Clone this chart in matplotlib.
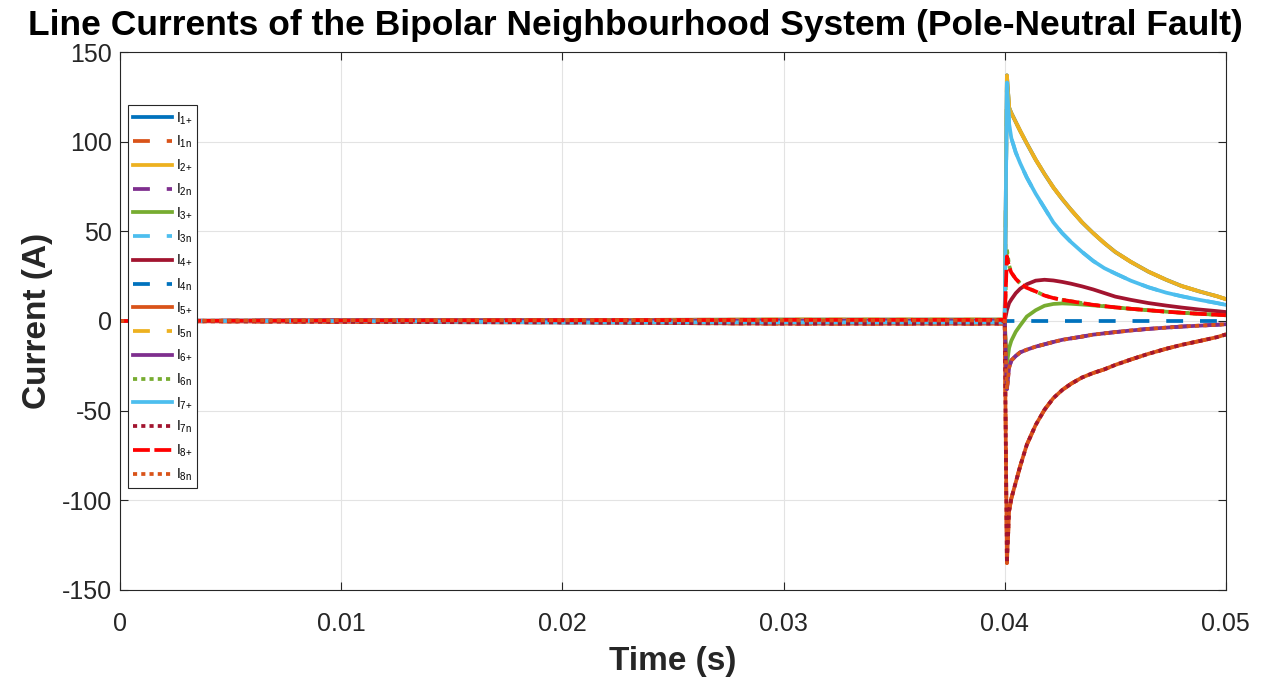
import matplotlib
matplotlib.use("Agg")
import matplotlib.pyplot as plt

plt.rcParams['font.family'] = ['Liberation Sans', 'DejaVu Sans']
plt.rcParams['mathtext.fontset'] = 'custom'
plt.rcParams['mathtext.rm'] = 'Liberation Sans'
plt.rcParams['mathtext.it'] = 'Liberation Sans'
plt.rcParams['axes.unicode_minus'] = False

# time samples (s)
t = [0, 0.01, 0.02, 0.03, 0.0399,
     0.04, 0.0401, 0.0402, 0.0403, 0.0405, 0.0407, 0.041, 0.0414, 0.0418, 0.0422,
     0.0426, 0.043, 0.0435, 0.044, 0.0445, 0.045, 0.0457, 0.0465, 0.0473, 0.048,
     0.0488, 0.0496, 0.05]

i2p = [0, 0.3, 0.5, 0.8, 0.8,
       0, 137, 119, 116, 111, 106, 99, 90, 82, 74.5,
       68, 62, 55, 49, 43.5, 38.5, 33, 27.5, 23, 19.5,
       16.5, 13.8, 12.2]
i7p = [0, 0, -0.8, -0.8, -0.8,
       0, 133, 110, 102, 94, 88, 80, 71, 63, 55,
       49, 44, 38.5, 33.5, 29.5, 26.5, 22.5, 18.8, 15.8, 13.8,
       11.8, 10, 9]
i4p = [0, 0, 0.2, 0.3, 0.3,
       0, 6, 10, 12, 15.5, 18, 20.5, 22.5, 23, 22.6,
       21.8, 20.8, 19.3, 17.6, 15.6, 13.6, 11.8, 10, 8.6, 7.5,
       6.4, 5.5, 5]
i8p = [0, 0.2, 0.4, 0.6, 0.6,
       0, 36, 30, 27, 23.5, 21, 18.5, 16.5, 14.2, 12.8,
       11.8, 11, 10, 9, 8.3, 7.6, 6.8, 6, 5.2, 4.6,
       4, 3.5, 3.2]
i6n = [0, 0.2, 0.4, 0.6, 0.6,
       0, 40, 31, 27, 23.5, 21, 18.5, 16.5, 14.2, 12.8,
       11.8, 11, 10, 9, 8.3, 7.6, 6.8, 6, 5.2, 4.6,
       4, 3.5, 3.2]
i3p = [0, 0, 0, 0, 0,
       0, -24, -15, -11, -6, -2.5, 2.5, 6, 8.5, 9.5,
       9.8, 9.6, 9.2, 8.7, 8.2, 7.6, 6.8, 6, 5.2, 4.6,
       4, 3.5, 3.2]
i6p = [0, 0.4, 0.4, 0.3, 0.3,
       0, -38, -26, -22, -19.5, -17.5, -16, -14.3, -13, -11.7,
       -10.5, -9.7, -8.7, -7.6, -6.9, -6.2, -5.3, -4.4, -3.7, -3.1,
       -2.6, -2.1, -1.8]
i5p = [0, -0.5, -0.8, -1.5, -1.5,
       0, -135, -106, -99, -90, -81, -69, -58, -49.5, -43,
       -38.5, -35, -31.5, -29, -27, -24.5, -21.5, -18.3, -15.5, -13.3,
       -11.2, -9, -7.5]
i4n = [0, 0, 0, 0, 0,
       0, 0, 0, 0, 0, 0, 0, 0, 0, 0,
       0, 0, 0, 0, 0, 0, 0, 0, 0, 0,
       0, 0, 0]

labels = [r'I$_{\text{1+}}$', r'I$_{\text{1n}}$', r'I$_{\text{2+}}$', r'I$_{\text{2n}}$',
          r'I$_{\text{3+}}$', r'I$_{\text{3n}}$', r'I$_{\text{4+}}$', r'I$_{\text{4n}}$',
          r'I$_{\text{5+}}$', r'I$_{\text{5n}}$', r'I$_{\text{6+}}$', r'I$_{\text{6n}}$',
          r'I$_{\text{7+}}$', r'I$_{\text{7n}}$', r'I$_{\text{8+}}$', r'I$_{\text{8n}}$']
series = [i2p, i5p, i2p, i6p, i3p, i7p, i4p, i4n, i5p, i2p, i6p, i6n, i7p, i5p, i8p, i6p]

c_blue = '#0072BD'; c_or = '#D95319'; c_yel = '#EDB120'; c_pur = '#7E2F8E'
c_grn = '#77AC30'; c_lb = '#4DBEEE'; c_dr = '#A2142F'; c_red = '#FF0000'
colors = [c_blue, c_or, c_yel, c_pur, c_grn, c_lb, c_dr, c_blue, c_or, c_yel,
          c_pur, c_grn, c_lb, c_dr, c_red, c_or]
dash = (0, (4.5, 4.5))
dash8 = (0, (4.5, 1.2))
dot = (0, (1.1, 1.1))
styles = ['-', dash, '-', dash, '-', dash, '-', dash, '-', dash, '-', dot, '-', dot,
          dash8, dot]

fig = plt.figure(figsize=(12.69, 6.8), dpi=100)
ax = fig.add_axes([0.0946, 0.1324, 0.8714, 0.7911])

for y, c, ls, lab in zip(series, colors, styles, labels):
    ax.plot(t, y, color=c, linestyle=ls, linewidth=2.7, label=lab,
            solid_joinstyle='round')

ax.set_xlim(0, 0.05)
ax.set_ylim(-150, 150)
ax.set_xticks([0, 0.01, 0.02, 0.03, 0.04, 0.05])
ax.set_xticklabels(['0', '0.01', '0.02', '0.03', '0.04', '0.05'])
ax.set_yticks([-150, -100, -50, 0, 50, 100, 150])
ax.grid(True, color='#e3e3e3', linewidth=0.8)
ax.set_axisbelow(True)
ax.tick_params(direction='in', top=True, right=True, labelsize=18, length=6,
               color='#262626', labelcolor='#262626')
ax.tick_params(axis='x', pad=16)
ax.tick_params(axis='y', pad=6)
for s in ax.spines.values():
    s.set_color('#262626')
    s.set_linewidth(0.8)

ax.set_xlabel('Time (s)', fontsize=24, fontweight='bold', labelpad=7,
              color='#262626')
ax.set_ylabel('Current (A)', fontsize=24, fontweight='bold', labelpad=6,
              color='#262626')
fig.text(635 / 1269, 1 - 35 / 680,
         'Line Currents of the Bipolar Neighbourhood System (Pole-Neutral Fault)',
         fontsize=25.5, fontweight='bold', ha='center', va='baseline')

leg = ax.legend(loc='upper left', bbox_to_anchor=(0.007, 0.901), fontsize=10,
                handlelength=2.8, handletextpad=0.3, labelspacing=0.53,
                borderpad=0.35, borderaxespad=0, fancybox=False, framealpha=1,
                edgecolor='#262626')
leg.get_frame().set_linewidth(0.8)

fig.savefig('out.png', dpi=100)
